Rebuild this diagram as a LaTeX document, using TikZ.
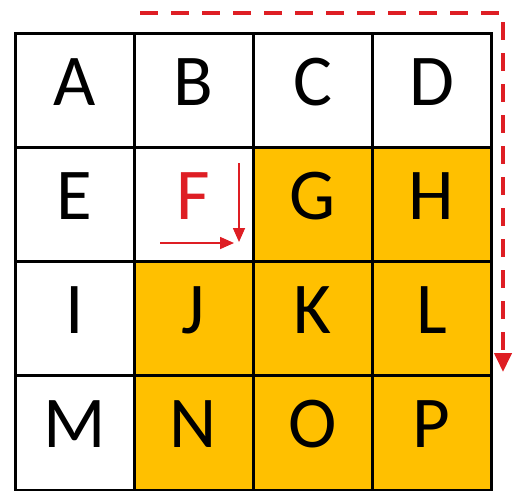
\documentclass[tikz,border=0pt]{standalone}
\usepackage{fontspec}
\setmainfont{Carlito}
\usetikzlibrary{arrows.meta}
\definecolor{gold}{RGB}{255,192,0}
\definecolor{myred}{RGB}{222,30,36}
\begin{document}
\begin{tikzpicture}[x=1pt,y=-1pt,
  cell/.style={draw=black,line width=3pt,rectangle,minimum width=119pt,minimum height=114.25pt,inner sep=0pt,outer sep=0pt,anchor=north west},
  letter/.style={anchor=base,inner sep=0pt,font=\fontsize{73}{80}\selectfont},
  path/.style={draw=myred,line width=4pt,dash pattern=on 18pt off 13pt,-{Triangle[length=19pt,width=17pt]}},
  small/.style={draw=myred,line width=1.6pt,-{Triangle[length=14pt,width=12pt]}}]
\useasboundingbox (0,0) rectangle (513,490);
\foreach \L/\c/\r/\f in {A/0/0/white,B/1/0/white,C/2/0/white,D/3/0/white,
  E/0/1/white,F/1/1/white,G/2/1/gold,H/3/1/gold,
  I/0/2/white,J/1/2/gold,K/2/2/gold,L/3/2/gold,
  M/0/3/white,N/1/3/gold,O/2/3/gold,P/3/3/gold}{
  \node[cell,fill=\f] (c\L) at ({15+119*\c},{33+114.25*\r}) {};
}
\foreach \L in {A,B,C,D,E,G,H,I,J,K,L,M,N,O,P}{
  \node[letter] (t\L) at ([yshift=-15pt]c\L.center) {\L};
}
\node[letter,text=myred] (tF) at ([yshift=-15pt]cF.center) {F};
\coordinate (hs) at (160,243);
\coordinate (he) at (234,243);
\coordinate (vs) at (239,163);
\coordinate (ve) at (239,242);
\draw[small] (hs) -- (he);
\draw[small] (vs) -- (ve);
\coordinate (ps) at (140,13);
\coordinate (pc) at (503,13);
\coordinate (pe) at (503,372);
\draw[path] (ps) -- (pc) -- (pe);
\end{tikzpicture}
\end{document}
